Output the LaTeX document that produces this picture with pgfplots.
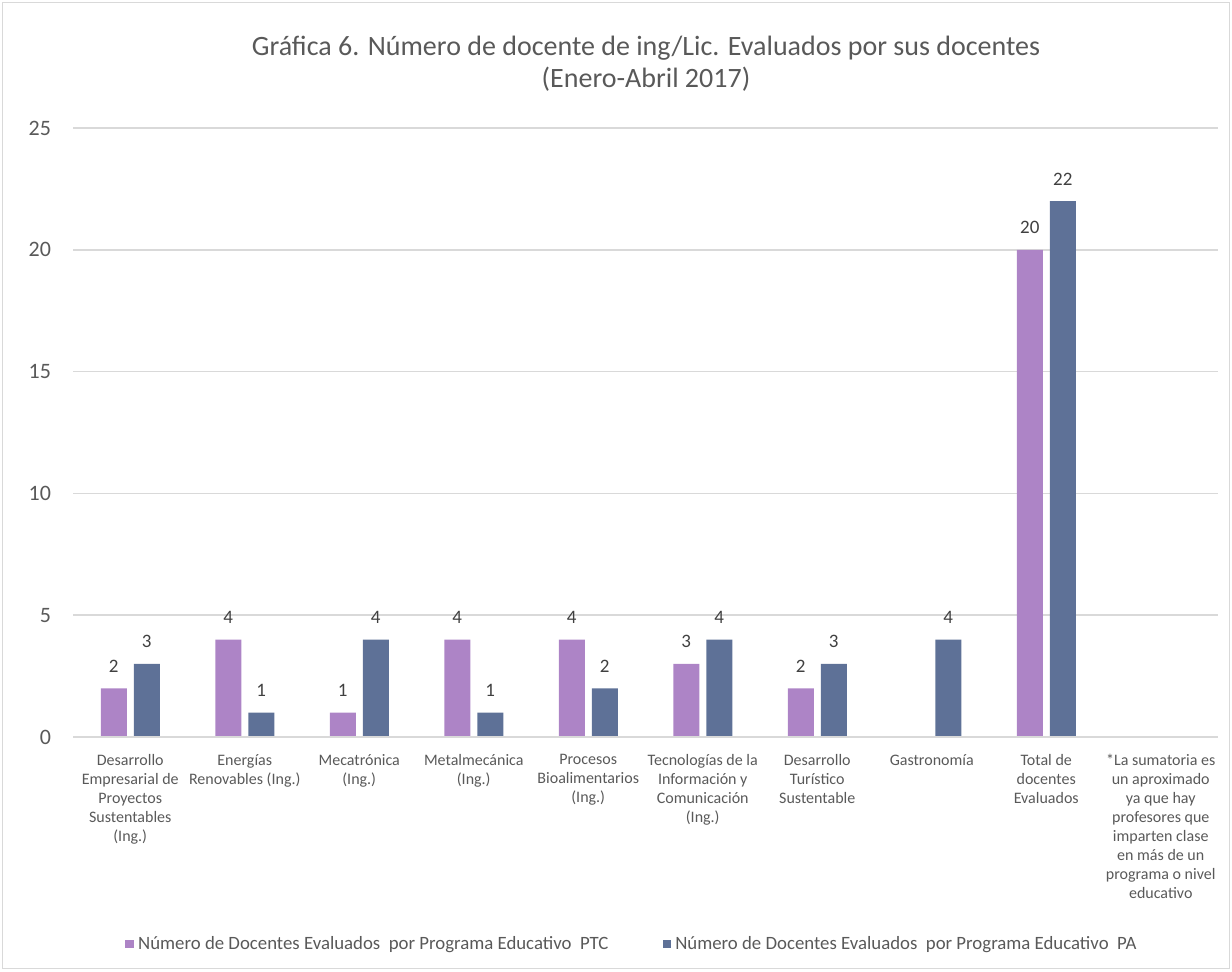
\documentclass[border=0pt]{standalone}
\usepackage{pgfplots}
\pgfplotsset{compat=1.18}
\usepackage{fontspec}
\setmainfont{Carlito}
\definecolor{ptc}{HTML}{AD84C6}
\definecolor{pa}{HTML}{5E7197}
\definecolor{gridc}{HTML}{D9D9D9}
\definecolor{txt}{HTML}{595959}
\definecolor{lbl}{HTML}{404040}
\begin{document}
\begin{tikzpicture}
\begin{axis}[
  scale only axis,
  width=572.5pt, height=304.5pt,
  at={(0,0)}, anchor=south west,
  ymin=0, ymax=25, ytick={0,5,10,15,20,25},
  xmin=-0.5, xmax=9.5,
  xtick={0,...,9},
  xticklabels={
    {Desarrollo\\Empresarial de\\Proyectos\\Sustentables\\(Ing.)},
    {Energías\\Renovables (Ing.)},
    {Mecatrónica\\(Ing.)},
    {Metalmecánica\\(Ing.)},
    {Procesos\\Bioalimentarios\\(Ing.)},
    {Tecnologías de la\\Información y\\Comunicación\\(Ing.)},
    {Desarrollo\\Turístico\\Sustentable},
    {Gastronomía},
    {Total de\\docentes\\Evaluados},
    {*La sumatoria es\\un aproximado\\ya que hay\\profesores que\\imparten clase\\en más de un\\programa o nivel\\educativo}},
  xticklabel style={align=center, font=\fontsize{8}{9.5}\selectfont, text=txt, yshift=-5pt},
  yticklabel style={font=\fontsize{11}{13}\selectfont, text=txt, xshift=-7.5pt},
  /pgf/number format/assume math mode=true,
  major tick length=0pt,
  axis line style={draw=none},
  ymajorgrids, grid style={gridc, line width=0.75pt},
  ybar, bar width=13pt,
  nodes near coords,
  every node near coord/.append style={font=\fontsize{9.5}{11}\selectfont, text=lbl, yshift=4.5pt},
  legend columns=2,
  legend style={at={(0.489,-0.34)}, anchor=center, draw=none, fill=none,
    font=\fontsize{9.4}{11}\selectfont, text=txt,
    /tikz/every even column/.append style={column sep=25pt}},
  legend image code/.code={\fill[#1] (0pt,-2.2pt) rectangle (4.4pt,2.2pt);},
  clip=false,
]
\addplot[fill=ptc, draw=none, bar shift=-8.25pt] coordinates {(0,2) (1,4) (2,1) (3,4) (4,4) (5,3) (6,2) (8,20)};
\addlegendentry{Número de Docentes Evaluados\ \ por Programa Educativo\ \ PTC}
\addplot[fill=pa, draw=none, bar shift=8.25pt] coordinates {(0,3) (1,1) (2,4) (3,1) (4,2) (5,4) (6,3) (7,4) (8,22)};
\addlegendentry{Número de Docentes Evaluados\ \ por Programa Educativo\ \ PA}
\draw[gridc, line width=0.75pt] (rel axis cs:0,0) -- (rel axis cs:1,0);
\end{axis}
\node[align=center, font=\fontsize{14}{16}\selectfont, text=txt] at (286.5pt,336.5pt) {Gráfica 6. Número de docente de ing/Lic. Evaluados por sus docentes\\(Enero-Abril 2017)};
\draw[gridc, line width=0.6pt] (-35.3pt,-115.8pt) rectangle (578.3pt,367.3pt);
\useasboundingbox (-36.5pt,-117pt) rectangle (579.5pt,368.5pt);
\end{tikzpicture}
\end{document}
